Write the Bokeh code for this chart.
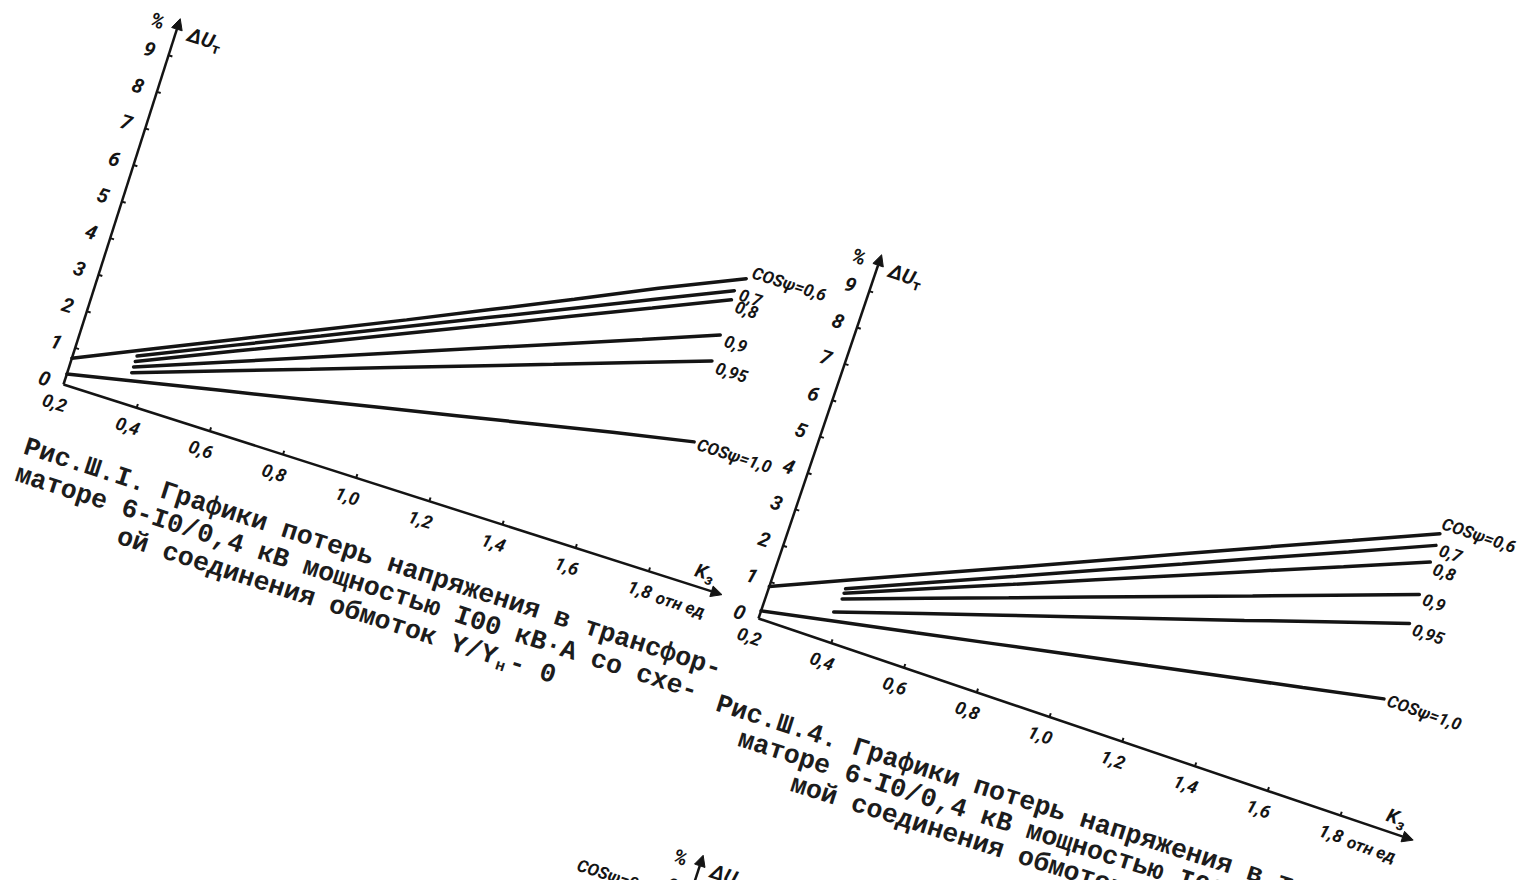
import numpy as np
from bokeh.plotting import figure
from bokeh.models import Range1d, Arrow, NormalHead
from bokeh.core.properties import value
from bokeh.embed import file_html
from bokeh.resources import INLINE

# ---------------- data ----------------
# Chart 1 (Рис. III.1, 100 kV·A): ΔU_T (%) vs load factor Kз
K1_LONG = [0.2, 0.4, 0.6, 0.8, 1.0, 1.2, 1.4, 1.6, 1.81]
K1_SHORT = [0.36, 0.6, 0.8, 1.0, 1.2, 1.4, 1.6, 1.79]
U1_06 = [0.72, 1.62, 2.52, 3.42, 4.32, 5.24, 6.16, 7.10, 8.03]
U1_07 = [1.29, 2.36, 3.24, 4.13, 5.02, 5.91, 6.80, 7.64]
U1_08 = [1.14, 2.19, 3.06, 3.94, 4.81, 5.69, 6.56, 7.39]
U1_09 = [0.99, 1.90, 2.66, 3.42, 4.18, 4.94, 5.70, 6.43]
U1_095 = [0.83, 1.65, 2.33, 3.02, 3.70, 4.38, 5.07, 5.72]
U1_10 = [0.29, 0.70, 1.11, 1.52, 1.93, 2.34, 2.75, 3.16, 3.57]

# Chart 2 (Рис. III.4, 160 kV·A)
K2_LONG = [0.2, 0.4, 0.6, 0.8, 1.0, 1.2, 1.4, 1.6, 1.81]
K2_SHORT = [0.39, 0.6, 0.8, 1.0, 1.2, 1.4, 1.6, 1.81]
K2_095 = [0.38, 0.6, 0.8, 1.0, 1.2, 1.4, 1.6, 1.81]
U2_06 = [0.88, 1.74, 2.60, 3.45, 4.31, 5.17, 6.03, 6.88, 7.78]
U2_07 = [1.46, 2.35, 3.19, 4.04, 4.88, 5.73, 6.57, 7.46]
U2_08 = [1.34, 2.18, 2.97, 3.77, 4.57, 5.37, 6.16, 7.00]
U2_09 = [1.18, 1.91, 2.60, 3.30, 3.99, 4.68, 5.38, 6.11]
U2_095 = [0.79, 1.49, 2.12, 2.75, 3.38, 4.01, 4.65, 5.31]
U2_10 = [0.21, 0.59, 0.96, 1.34, 1.72, 2.09, 2.47, 2.84, 3.24]

Y_TICKS = [0, 1, 2, 3, 4, 5, 6, 7, 8, 9]
X_TICKS = [0.2, 0.4, 0.6, 0.8, 1.0, 1.2, 1.4, 1.6, 1.8]
X_TICK_LABELS = ["0,2", "0,4", "0,6", "0,8", "1,0", "1,2", "1,4", "1,6", "1,8"]
CURVE_LABELS = ["COSψ=0,6", "0,7", "0,8", "0,9", "0,95", "COSψ=1,0"]

CAPTION1 = ["Рис.Ш.I. Графики потерь напряжения в трансфор-",
            "маторе 6-I0/0,4 кВ мощностью I00 кВ·А со схе-",
            "ой соединения обмоток Y/Y", "н", "- 0"]
CAPTION2 = ["Рис.Ш.4. Графики потерь напряжения в трансфор-",
            "маторе 6-I0/0,4 кВ мощностью I60 кВ·А со схе-",
            "мой соединения обмоток Y/Y", "н", "- 0"]

# ---------------- layout / style ----------------
INK = "#141414"
NUM_FONT = "Roboto"
CAP_FONT = "Liberation Mono"
SX, SY = 384.0, 38.4          # px per unit Kз, px per 1 %

p = figure(width=1518, height=880, x_range=Range1d(0, 1518), y_range=Range1d(880, 0),
           output_backend="svg", toolbar_location=None, min_border=0,
           x_axis_type=None, y_axis_type=None,
           background_fill_color="white", border_fill_color="white")
p.outline_line_color = None
p.grid.visible = False


def make_frame(origin, th_deg):
    th = np.deg2rad(th_deg)
    c, s = np.cos(th), np.sin(th)
    ox, oy = origin

    def to_page(k, u):
        k = np.asarray(k, float)
        u = np.asarray(u, float)
        return ox + (k - 0.2) * SX * c + u * SY * s, oy + (k - 0.2) * SX * s - u * SY * c

    def shift(x, y, along, down):
        return x + along * c - down * s, y + along * s + down * c

    return to_page, shift, -th


def put(x, y, s, size, font=NUM_FONT, style="bold italic", angle=0.0, align="left",
        baseline="middle", color=INK):
    p.text(x=[float(x)], y=[float(y)], text=[s], text_font=value(font),
           text_font_size=f"{size}px", text_font_style=style, text_align=align,
           text_baseline=baseline, angle=angle, text_color=color)


def axes(to_page, shift, ang, y_top=10.0, k_end=2.0, full=True):
    x0, y0 = to_page(0.2, 0)
    xt, yt = to_page(0.2, y_top)
    p.add_layout(Arrow(end=NormalHead(size=11, fill_color=INK, line_color=INK, line_width=1),
                       x_start=float(x0), y_start=float(y0), x_end=float(xt), y_end=float(yt),
                       line_width=2.5, line_color=INK))
    tx, ty, ex_, ey_ = [], [], [], []
    for u in Y_TICKS[1:]:
        bx, by = to_page(0.2, u)
        qx, qy = shift(bx, by, 4, 0)
        tx.append(float(bx)); ty.append(float(by)); ex_.append(float(qx)); ey_.append(float(qy))
    p.segment(tx, ty, ex_, ey_, line_width=2, color=INK)
    for u in Y_TICKS:
        lx, ly = shift(*to_page(0.2, u), -20, 0)
        put(lx, ly, str(u), 20, angle=ang, align="center")
    px_, py_ = shift(xt, yt, -21, 9)
    put(px_, py_, "%", 20, angle=ang, align="center")
    dx_, dy_ = shift(xt, yt, 12, 12)
    put(dx_, dy_, "ΔU", 20, angle=ang)
    sx_, sy_ = shift(xt, yt, 39, 18)
    put(sx_, sy_, "т", 15, style="bold", angle=ang)
    if not full:
        return
    x1, y1 = to_page(k_end, 0)
    p.add_layout(Arrow(end=NormalHead(size=11, fill_color=INK, line_color=INK, line_width=1),
                       x_start=float(x0), y_start=float(y0), x_end=float(x1), y_end=float(y1),
                       line_width=2.5, line_color=INK))
    tx, ty, ex_, ey_ = [], [], [], []
    for k in X_TICKS[1:]:
        bx, by = to_page(k, 0)
        qx, qy = shift(bx, by, 0, -4)
        tx.append(float(bx)); ty.append(float(by)); ex_.append(float(qx)); ey_.append(float(qy))
    p.segment(tx, ty, ex_, ey_, line_width=2, color=INK)
    for k, lab in zip(X_TICKS, X_TICK_LABELS):
        lx, ly = shift(*to_page(k, 0), -3, 20)
        put(lx, ly, lab, 18, angle=ang, align="center")
    lx, ly = shift(*to_page(1.8, 0), 15, 22)
    put(lx, ly, "отн ед", 17, angle=ang)
    kx, ky = shift(*to_page(1.93, 0), 0, -16)
    put(kx, ky, "K", 19, angle=ang, align="center")
    zx, zy = shift(kx, ky, 10, 6)
    put(zx, zy, "з", 15, angle=ang, align="center")


def curves(to_page, shift, ang, series):
    for (K, U, lab, al, dn) in series:
        x, y = to_page(K, U)
        p.line(x, y, line_width=3.5, color=INK, line_cap="round")
        lx, ly = shift(float(x[-1]), float(y[-1]), al, dn)
        put(lx, ly, lab, 17, angle=ang)


def caption(anchor, th_deg, lines, cw=15.9, ls=27.0):
    th = np.deg2rad(th_deg)
    c, s = np.cos(th), np.sin(th)
    ax, ay = anchor
    for (txt, along, line, size, extra_down) in lines:
        a = along * cw
        d = line * ls + extra_down
        put(ax + a * c - d * s, ay + a * s + d * c, txt, size, font=CAP_FONT,
            style="bold", angle=-th, color="#1c1c1c")


# ---------------- chart 1 ----------------
tp1, sh1, an1 = make_frame((63.0, 384.0), 17.7)
axes(tp1, sh1, an1)
curves(tp1, sh1, an1, [
    (K1_LONG, U1_06, CURVE_LABELS[0], 4, -8),
    (K1_SHORT, U1_07, CURVE_LABELS[1], 6, 2),
    (K1_SHORT, U1_08, CURVE_LABELS[2], 6, 5),
    (K1_SHORT, U1_09, CURVE_LABELS[3], 6, 4),
    (K1_SHORT, U1_095, CURVE_LABELS[4], 6, 5),
    (K1_LONG, U1_10, CURVE_LABELS[5], 4, 1),
])
caption((24.0, 446.0), 17.8, [
    (CAPTION1[0], 0.0, 0, 26.5, 0),
    (CAPTION1[1], 0.0, 1, 26.5, 0),
    (CAPTION1[2], 7.3, 2, 26.5, 0),
    (CAPTION1[3], 7.3 + 25.1, 2, 16, 7),
    (CAPTION1[4], 7.3 + 25.9, 2, 26.5, 0),
], ls=28.5)

# ---------------- chart 2 ----------------
tp2, sh2, an2 = make_frame((758.0, 618.0), 18.7)
axes(tp2, sh2, an2)
curves(tp2, sh2, an2, [
    (K2_LONG, U2_06, CURVE_LABELS[0], -1, -11),
    (K2_SHORT, U2_07, CURVE_LABELS[1], 5, 3),
    (K2_SHORT, U2_08, CURVE_LABELS[2], 5, 5),
    (K2_SHORT, U2_09, CURVE_LABELS[3], 5, 3),
    (K2_095, U2_095, CURVE_LABELS[4], 5, 4),
    (K2_LONG, U2_10, CURVE_LABELS[5], 4, 0),
])
caption((716.0, 703.0), 17.6, [
    (CAPTION2[0], 0.0, 0, 26.5, 0),
    (CAPTION2[1], 2.0, 1, 26.5, 0),
    (CAPTION2[2], 6.0, 2, 26.5, 0),
    (CAPTION2[3], 6.0 + 26.1, 2, 16, 7),
    (CAPTION2[4], 6.0 + 26.9, 2, 26.5, 0),
], ls=27.0)

# ---------------- chart 3 (top edge only, cut by the page) ----------------
tp3, sh3, an3 = make_frame((584.0, 1220.0), 18.0)
axes(tp3, sh3, an3, full=False)
put(577, 864, CURVE_LABELS[0], 17, angle=an3)

open("out.html", "w").write(file_html(p, INLINE))
